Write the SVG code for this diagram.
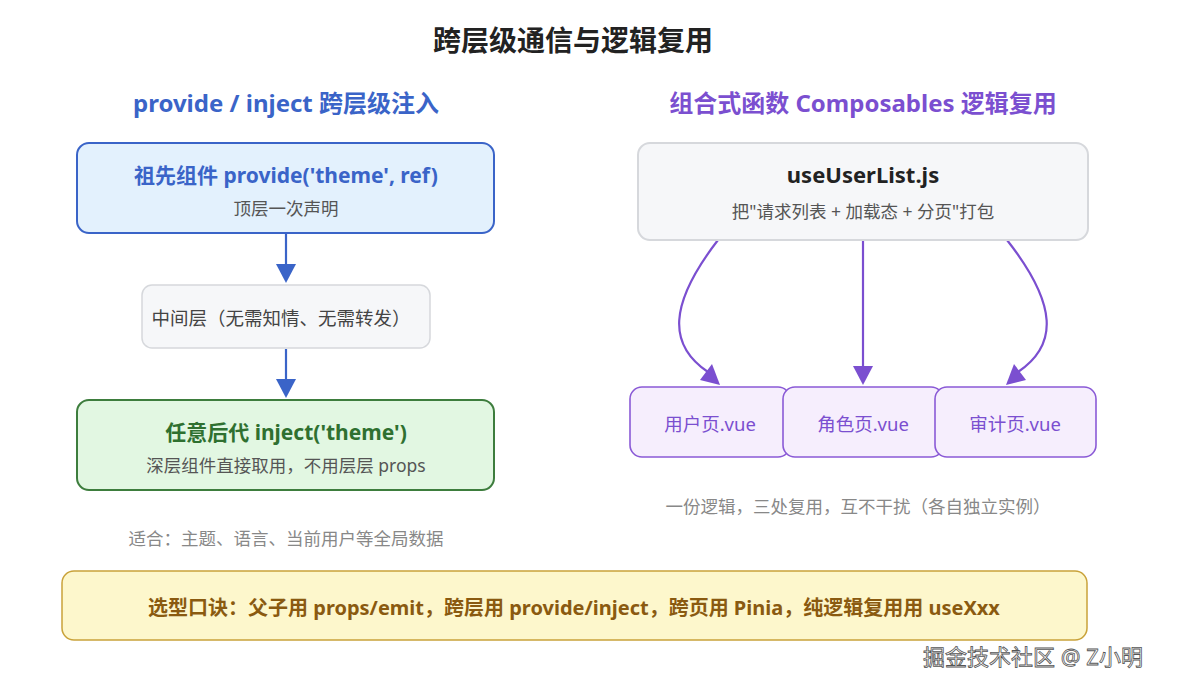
<svg xmlns="http://www.w3.org/2000/svg" width="1179" height="690" viewBox="0 0 1179 690">
<style>
text{font-family:"Noto Sans","Noto Sans CJK SC",sans-serif;text-anchor:middle}
.b{font-weight:bold}
.sub{font-size:17.5px;fill:#555}
.page{fill:#f6eefd;stroke:#8a5ad6;stroke-width:1.6}
.pt{font-size:18.5px;fill:#7b4fd0}
.bl{stroke:#3a64c8;stroke-width:2.2;fill:none}
.pu{stroke:#7b4fd0;stroke-width:2.2;fill:none}
</style>
<rect width="1179" height="690" fill="#fff"/>
<text x="573" y="51" class="b" font-size="28" fill="#222">跨层级通信与逻辑复用</text>
<text x="286" y="112" class="b" font-size="24" fill="#3a64c8">provide / inject 跨层级注入</text>
<text x="863" y="112" class="b" font-size="24" fill="#7b4fd0">组合式函数 Composables 逻辑复用</text>
<g id="connectors">
<path class="bl" d="M286,234V264" /><path d="M276,264L286,283L296,264z" fill="#3a64c8"/>
<path class="bl" d="M286,349V379" /><path d="M276,379L286,398L296,379z" fill="#3a64c8"/>
<path class="pu" d="M718,240C668,305 668,345 708,372"/><path d="M700,380L720,385L712,364z" fill="#7b4fd0"/>
<path class="pu" d="M863,240V366"/><path d="M853,366L863,385L873,366z" fill="#7b4fd0"/>
<path class="pu" d="M1007,240C1058,305 1058,345 1018,372"/><path d="M1026,380L1006,385L1014,364z" fill="#7b4fd0"/>
</g>
<g id="n1"><rect x="77" y="143" width="417" height="90" rx="12" fill="#e3f1fd" stroke="#3a64c8" stroke-width="2"/>
<text x="286" y="183" class="b" font-size="21" fill="#3a64c8">祖先组件 provide('theme', ref)</text>
<text x="286" y="215" class="sub">顶层一次声明</text></g>
<g id="n2"><rect x="142" y="285" width="288" height="63" rx="10" fill="#f6f7f9" stroke="#d6d8dc" stroke-width="1.5"/>
<text x="281" y="325" font-size="18.5" fill="#444">中间层（无需知情、无需转发）</text></g>
<g id="n3"><rect x="77" y="400" width="417" height="90" rx="12" fill="#e2f7e2" stroke="#3d7d3d" stroke-width="2"/>
<text x="286" y="440" class="b" font-size="21" fill="#2f7030">任意后代 inject('theme')</text>
<text x="286" y="472" class="sub">深层组件直接取用，不用层层 props</text></g>
<text x="286" y="545" font-size="17.5" fill="#888">适合：主题、语言、当前用户等全局数据</text>
<g id="n4"><rect x="638" y="143" width="450" height="97" rx="12" fill="#f6f7f9" stroke="#d6d8dc" stroke-width="2"/>
<text x="863" y="183" class="b" font-size="22" fill="#222">useUserList.js</text>
<text x="863" y="218" class="sub">把"请求列表 + 加载态 + 分页"打包</text></g>
<g id="p1"><rect class="page" x="630" y="387" width="160" height="70" rx="12"/><text x="710" y="431" class="pt">用户页.vue</text></g>
<g id="p2"><rect class="page" x="783" y="387" width="160" height="70" rx="12"/><text x="863" y="431" class="pt">角色页.vue</text></g>
<g id="p3"><rect class="page" x="935" y="387" width="161" height="70" rx="12"/><text x="1015" y="431" class="pt">审计页.vue</text></g>
<text x="858" y="513" font-size="17.5" fill="#888">一份逻辑，三处复用，互不干扰（各自独立实例）</text>
<g id="n5"><rect x="62" y="571" width="1025" height="69" rx="12" fill="#fdf7cc" stroke="#c9a23a" stroke-width="1.5"/>
<text x="574" y="615" class="b" font-size="20" fill="#8a5a10">选型口诀：父子用 props/emit，跨层用 provide/inject，跨页用 Pinia，纯逻辑复用用 useXxx</text></g>
<text x="1033" y="665" font-size="22" fill="#fff" stroke="#555" stroke-width="0.8">掘金技术社区 @ Z小明</text>
</svg>
